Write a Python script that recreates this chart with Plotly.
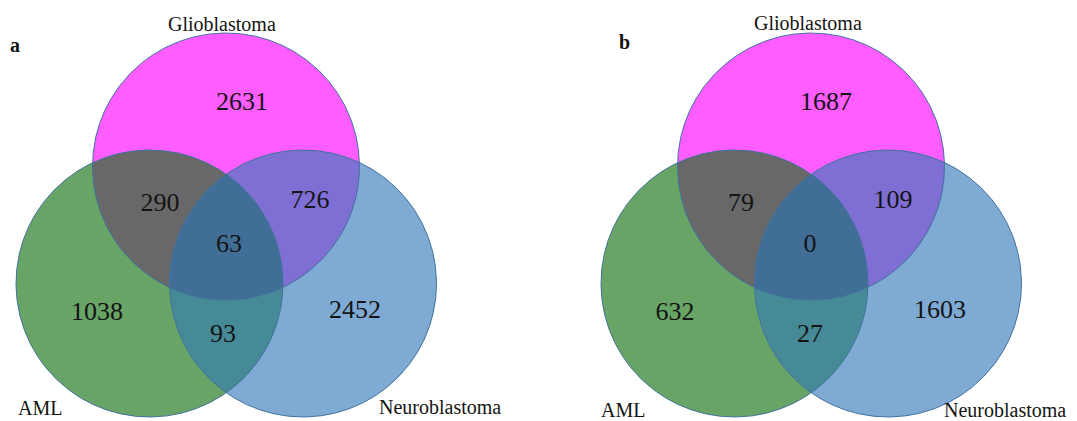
import numpy as np
import plotly.graph_objects as go

# Sets and region counts (order: G only, A&G, G&N, A&G&N, A only, A&N, N only)
set_names = ["Glioblastoma", "AML", "Neuroblastoma"]
panel_tags = ["a", "b"]
counts_a = [2631, 290, 726, 63, 1038, 93, 2452]
counts_b = [1687, 79, 109, 0, 632, 27, 1603]

# Layout of one panel in pixel space (x right, y down)
R = 133.5
centers = {"G": (226.0, 166.5), "A": (149.5, 283.5), "N": (303.0, 283.5)}
panel_dx = [0.0, 585.0]

fill = {"G": "#FF5DFF", "A": "#67A465", "N": "#7EAAD4"}
pair_fill = {("A", "G"): "#686868", ("G", "N"): "#7F6ED4", ("A", "N"): "#458A96"}
triple_fill = "#416E96"
edge = "#41719C"

count_pos = [(242, 103), (160, 204), (310, 201), (229, 245), (97, 313), (223, 335), (355, 311)]
count_pos_b = [(826, 103), (741, 204), (893, 201), (810, 245), (675, 313), (810, 335), (940, 311)]

font_family = "Liberation Serif, Times New Roman, serif"
ink = "#141414"

theta = np.linspace(0, 2 * np.pi, 1441)


def circle_pts(c, dx):
    return c[0] + dx + R * np.cos(theta), c[1] + R * np.sin(theta)


def intersection_poly(keys, dx):
    xs, ys = [], []
    for k in keys:
        cx, cy = circle_pts(centers[k], dx)
        mask = np.ones_like(cx, dtype=bool)
        for o in keys:
            if o == k:
                continue
            ox, oy = centers[o][0] + dx, centers[o][1]
            mask &= np.hypot(cx - ox, cy - oy) <= R + 1e-6
        xs.append(cx[mask])
        ys.append(cy[mask])
    x = np.concatenate(xs)
    y = np.concatenate(ys)
    mx, my = x.mean(), y.mean()
    order = np.argsort(np.arctan2(y - my, x - mx))
    x, y = x[order], y[order]
    return np.append(x, x[0]), np.append(y, y[0])


fig = go.Figure()

for p, dx in enumerate(panel_dx):
    # base circles
    for k in ["G", "A", "N"]:
        x, y = circle_pts(centers[k], dx)
        fig.add_trace(go.Scatter(x=x, y=y, mode="lines", fill="toself",
                                 fillcolor=fill[k], line=dict(width=0),
                                 hoverinfo="skip", showlegend=False))
    # pairwise overlaps
    for pair, col in pair_fill.items():
        x, y = intersection_poly(list(pair), dx)
        fig.add_trace(go.Scatter(x=x, y=y, mode="lines", fill="toself",
                                 fillcolor=col, line=dict(width=0),
                                 hoverinfo="skip", showlegend=False))
    # triple overlap
    x, y = intersection_poly(["G", "A", "N"], dx)
    fig.add_trace(go.Scatter(x=x, y=y, mode="lines", fill="toself",
                             fillcolor=triple_fill, line=dict(width=0),
                             hoverinfo="skip", showlegend=False))
    # outlines
    for k in ["G", "A", "N"]:
        x, y = circle_pts(centers[k], dx)
        fig.add_trace(go.Scatter(x=x, y=y, mode="lines",
                                 line=dict(color=edge, width=1),
                                 hoverinfo="skip", showlegend=False))

    counts = counts_a if p == 0 else counts_b
    pos = count_pos if p == 0 else count_pos_b
    fig.add_trace(go.Scatter(
        x=[q[0] for q in pos], y=[q[1] for q in pos],
        mode="text", text=[str(v) for v in counts],
        textfont=dict(family=font_family, size=26, color=ink),
        hoverinfo="skip", showlegend=False))

# set labels
label_pos = [
    [(222, 24), (40, 408), (440, 407)],
    [(808, 23), (623, 410), (1005, 410)],
]
for p in range(2):
    for name, (lx, ly) in zip(set_names, label_pos[p]):
        fig.add_annotation(x=lx, y=ly, text=name, showarrow=False,
                           font=dict(family=font_family, size=20, color=ink),
                           xanchor="center", yanchor="middle")

# panel tags
tag_pos = [(15, 45), (624, 42)]
for tag, (tx, ty) in zip(panel_tags, tag_pos):
    fig.add_annotation(x=tx, y=ty, text="<b>%s</b>" % tag, showarrow=False,
                       font=dict(family=font_family, size=20, color=ink),
                       xanchor="center", yanchor="middle")

fig.update_xaxes(range=[0, 1077], visible=False, fixedrange=True)
fig.update_yaxes(range=[421, 0], visible=False, fixedrange=True)
fig.update_layout(width=1077, height=421, autosize=False,
                  margin=dict(l=0, r=0, t=0, b=0),
                  plot_bgcolor="white", paper_bgcolor="white")

fig.write_html("out.html")
